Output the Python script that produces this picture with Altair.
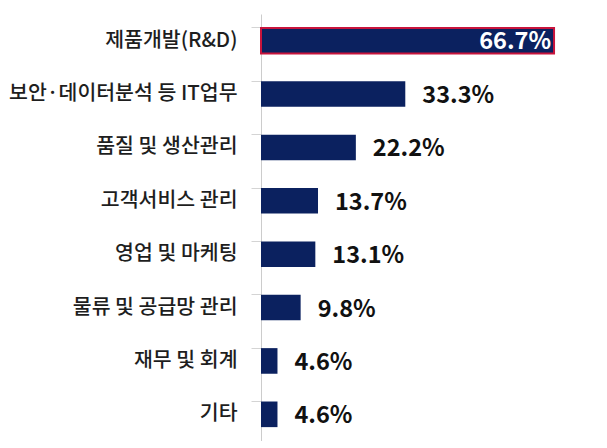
import altair as alt
import pandas as pd

categories = ["제품개발(R&D)", "보안·데이터분석 등 IT업무", "품질 및 생산관리", "고객서비스 관리",
              "영업 및 마케팅", "물류 및 공급망 관리", "재무 및 회계", "기타"]
values = [66.7, 33.3, 22.2, 13.7, 13.1, 9.8, 4.6, 4.6]

df = pd.DataFrame({"cat": categories, "val": values})
df["label"] = df["val"].map(lambda v: f"{v:.1f}%")
df["top"] = [i == 0 for i in range(len(df))]

FONT = "Noto Sans CJK KR"
NAVY = "#0b215f"
X0 = 0.9  # bars start just right of the axis line

y_enc = alt.Y("cat:N", sort=categories, title=None,
              scale=alt.Scale(paddingInner=0.52, paddingOuter=0.26),
              axis=alt.Axis(labelFont="Noto Sans CJK KR Medium, Noto Sans CJK KR", labelFontSize=20.5,
                            labelColor="#1e1e1e", labelPadding=14, tickSize=10, tickColor="#d4d4d4",
                            bandPosition=0, domainColor="#cccccc", labelFontWeight=500, labelLimit=0))
x_enc = alt.X("val:Q", scale=alt.Scale(domain=[X0, 75], zero=False), axis=None)

base = alt.Chart(df)

bars = base.mark_bar(color=NAVY).encode(
    x=x_enc, x2=alt.datum(X0), y=y_enc,
    stroke=alt.condition("datum.top", alt.value("#c8143c"), alt.value(NAVY)),
    strokeWidth=alt.condition("datum.top", alt.value(2), alt.value(0)),
)

outside = base.transform_filter("!datum.top").mark_text(
    align="left", baseline="middle", dx=17, dy=2, font=FONT, fontSize=23.5,
    fontWeight="bold", color="#111111"
).encode(x=x_enc, y=alt.Y("cat:N", sort=categories), text="label:N")

inside = base.transform_filter("datum.top").mark_text(
    align="right", baseline="middle", dx=-3, dy=1, font=FONT, fontSize=23.5,
    fontWeight="bold", color="white"
).encode(x=x_enc, y=alt.Y("cat:N", sort=categories), text="label:N")

chart = alt.layer(bars, outside, inside).properties(
    width=330, height=427, autosize=alt.AutoSizeParams(type="none"),
    padding={"left": 253, "top": 6, "right": 0, "bottom": 0},
    background="white",
).configure_view(strokeWidth=0)

chart.save("out.html", embed_options={"renderer": "svg", "actions": False})
